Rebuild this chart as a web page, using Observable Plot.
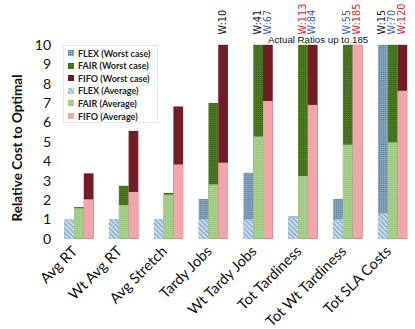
<!DOCTYPE html>
<html>
<head>
<meta charset="utf-8">
<script src="https://cdn.jsdelivr.net/npm/d3@7"></script>
<script src="https://cdn.jsdelivr.net/npm/@observablehq/plot@0.6"></script>
<style>
  html, body { margin: 0; padding: 0; background: #fff; overflow: hidden; }
  #wrap { position: relative; width: 415px; height: 329px; overflow: hidden; font-family: Lato, sans-serif; }
  #chart { position: absolute; left: 0; top: 0; }
  #ytitle { position: absolute; left: 17px; top: 148px; transform: translate(-50%, -50%) rotate(-90deg);
            font: bold 13.5px Lato, sans-serif; white-space: nowrap; color: #111; }
  #legend { position: absolute; left: 63px; top: 45px; width: 95px; height: 78px;
            border: 1px solid #e6e6e6; box-sizing: border-box; background: #fff; }
  #legend .item { position: absolute; left: 4px; height: 12px; display: flex; align-items: center;
                  font: bold 9px Lato, sans-serif; color: #222; white-space: nowrap; }
  #legend svg { margin-right: 4px; }
  #note { position: absolute; left: 268px; top: 34px; font: 9.7px "Liberation Sans", Arial, sans-serif;
          color: #111; white-space: nowrap; }
</style>
</head>
<body>
<svg width="0" height="0" style="position:absolute">
  <defs>
    <pattern id="FLEXavg" width="3.5" height="3.5" patternUnits="userSpaceOnUse" patternTransform="rotate(-45)">
      <rect width="3.5" height="3.5" fill="#cadcec"/>
      <line x1="0.8" y1="0" x2="0.8" y2="3.5" stroke="#86aacb" stroke-width="1.4"/>
    </pattern>
    <pattern id="FLEXworst" width="2" height="2" patternUnits="userSpaceOnUse">
      <rect width="2" height="2" fill="#7b9cb6"/>
      <rect width="1" height="1" fill="#5b7b95"/>
      <rect x="1" y="1" width="1" height="1" fill="#9bb7cc"/>
    </pattern>
    <pattern id="FAIRavg" width="2" height="2" patternUnits="userSpaceOnUse">
      <rect width="2" height="2" fill="#a9d28e"/>
      <rect width="1" height="1" fill="#8fbe70"/>
    </pattern>
    <pattern id="FAIRworst" width="2" height="2" patternUnits="userSpaceOnUse">
      <rect width="2" height="2" fill="#4f7f25"/>
      <rect width="1" height="1" fill="#2e5510"/>
    </pattern>
    <pattern id="FIFOavg" width="2" height="2" patternUnits="userSpaceOnUse">
      <rect width="2" height="2" fill="#f1a6ab"/>
    </pattern>
    <pattern id="FIFOworst" width="2" height="2" patternUnits="userSpaceOnUse">
      <rect width="2" height="2" fill="#721c25"/>
    </pattern>
  </defs>
</svg>
<div id="wrap">
  <div id="chart"></div>
  <div id="ytitle">Relative Cost to Optimal</div>
  <div id="legend"></div>
  <div id="note">Actual Ratios up to 185</div>
</div>
<script>
// ---- data ----
const categories = ["Avg RT", "Wt Avg RT", "Avg Stretch", "Tardy Jobs", "Wt Tardy Jobs",
                    "Tot Tardiness", "Tot Wt Tardiness", "Tot SLA Costs"];
const algorithms = ["FLEX", "FAIR", "FIFO"];
const flexAvg   = [1.0, 1.0, 1.0, 1.0, 1.0, 1.1, 1.0, 1.3];
const flexWorst = [1.0, 1.0, 1.0, 2.05, 3.4, 1.15, 2.05, 15];
const fairAvg   = [1.57, 1.73, 2.27, 2.8, 5.27, 3.23, 4.85, 4.97];
const fairWorst = [1.63, 2.73, 2.36, 7.0, 41, 113, 55, 70];
const fifoAvg   = [2.03, 2.41, 3.83, 3.92, 7.1, 6.9, 10, 7.63];
const fifoWorst = [3.37, 5.56, 6.82, 10, 67, 84, 185, 120];
const yTicks = [0, 1, 2, 3, 4, 5, 6, 7, 8, 9, 10];
const legendLabels = ["FLEX (Worst case)", "FAIR (Worst case)", "FIFO (Worst case)",
                      "FLEX (Average)", "FAIR (Average)", "FIFO (Average)"];
const legendKeys = ["FLEXworst", "FAIRworst", "FIFOworst", "FLEXavg", "FAIRavg", "FIFOavg"];

const avgBy = {FLEX: flexAvg, FAIR: fairAvg, FIFO: fifoAvg};
const worstBy = {FLEX: flexWorst, FAIR: fairWorst, FIFO: fifoWorst};
const rows = categories.flatMap((c, i) => algorithms.map(a => ({
  category: c, algo: a, avg: avgBy[a][i], worst: worstBy[a][i]
})));

const labelColor = v => v < 50 ? "#111" : v < 100 ? "#3d5fae" : "#e3242b";

const marks = [
  Plot.axisY({ticks: yTicks, tickSize: 0, tickPadding: 13, fontSize: 14.5, label: null, fill: "#111"}),
  Plot.axisFx({anchor: "bottom", tickRotate: -45, tickSize: 0, tickPadding: 10, dx: -4, fontSize: 15, label: null, fill: "#111"})
];
for (const a of algorithms) {
  marks.push(Plot.barY(rows.filter(d => d.algo === a),
    {fx: "category", x: "algo", y: "worst", fill: `url(#${a}worst)`}));
}
for (const a of algorithms) {
  marks.push(Plot.barY(rows.filter(d => d.algo === a),
    {fx: "category", x: "algo", y: "avg", fill: `url(#${a}avg)`}));
}
marks.push(Plot.text(rows.filter(d => d.worst >= 10), {
  fx: "category", x: "algo", y: "worst", text: d => "W:" + d.worst,
  rotate: -90, textAnchor: "start", dy: -11, dx: -1,
  fill: d => labelColor(d.worst), fontSize: 10, fontFamily: "DejaVu Sans"
}));

const chart = Plot.plot({
  width: 426, height: 329,
  marginLeft: 56, marginRight: 0, marginTop: 46, marginBottom: 84,
  style: {fontFamily: "Lato, sans-serif", background: "transparent", overflow: "visible"},
  fx: {domain: categories, paddingInner: 0.33, paddingOuter: 0.165, label: null},
  x: {domain: algorithms, padding: 0, axis: null},
  y: {domain: [0, 10], clamp: true, axis: null},
  color: {type: "identity"},
  marks
});
document.getElementById("chart").appendChild(chart);

const legend = document.getElementById("legend");
legendLabels.forEach((t, i) => {
  const div = document.createElement("div");
  div.className = "item";
  div.style.top = (1 + i * 12.6) + "px";
  div.innerHTML = `<svg width="6" height="6"><rect width="6" height="6" fill="url(#${legendKeys[i]})"/></svg>${t}`;
  legend.appendChild(div);
});
</script>
</body>
</html>
